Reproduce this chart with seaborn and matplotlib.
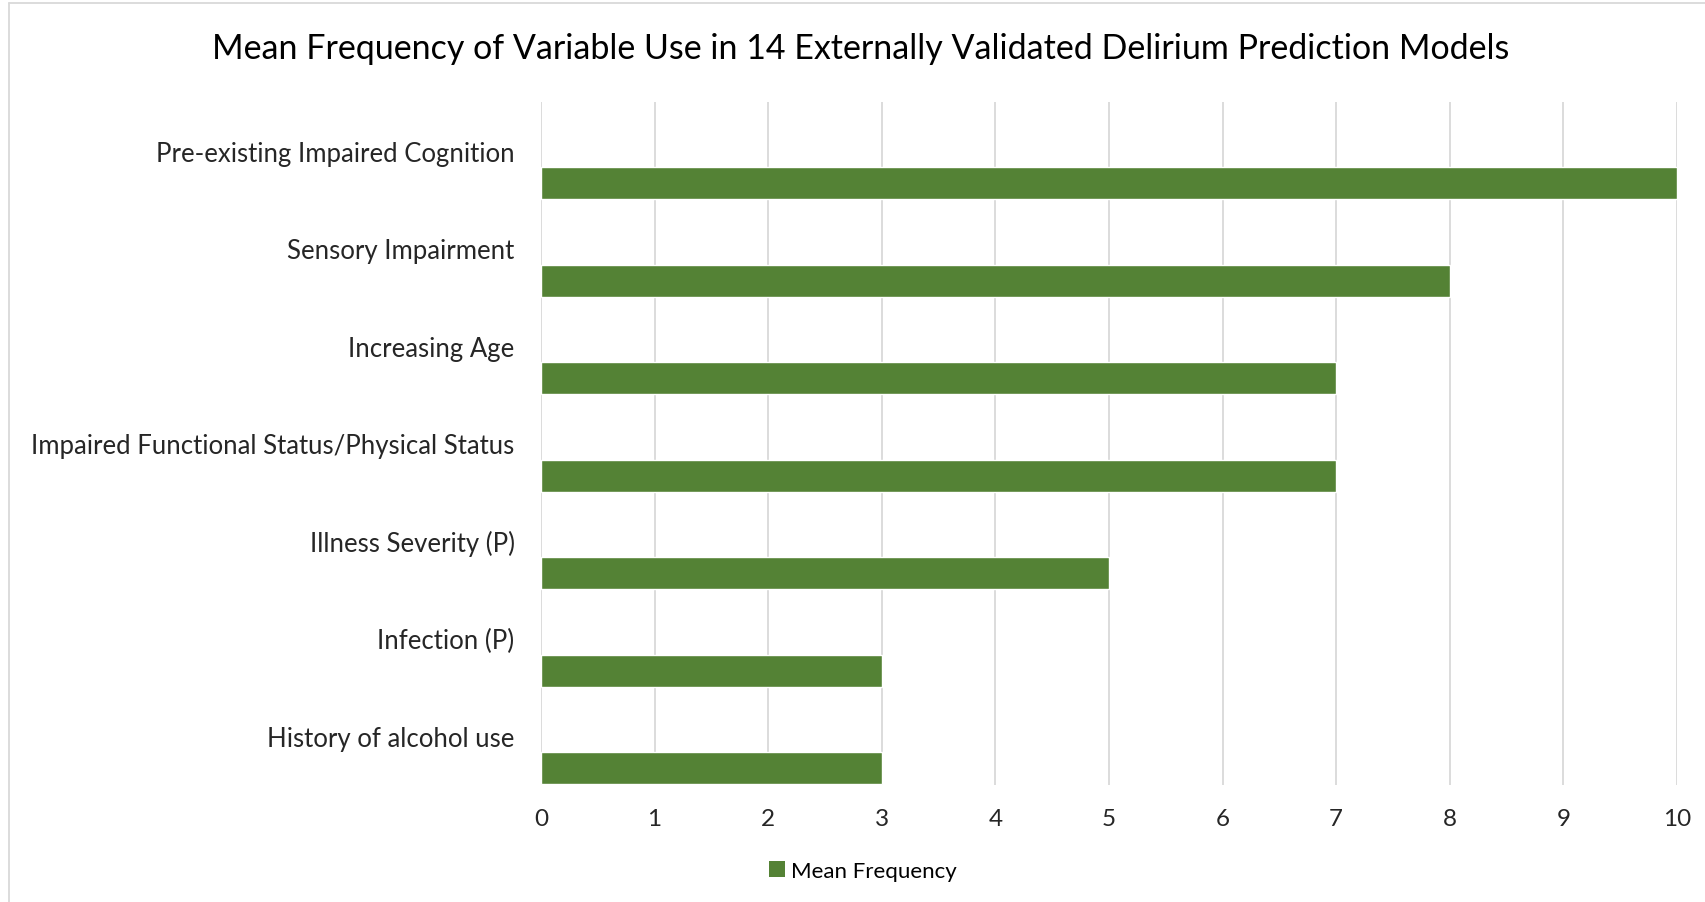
import matplotlib
matplotlib.use('Agg')
import matplotlib.pyplot as plt
from matplotlib.patches import Patch
from matplotlib.lines import Line2D
import seaborn as sns
import pandas as pd

# ---------- data ----------
variables = [
    "Pre-existing Impaired Cognition",
    "Sensory Impairment",
    "Increasing Age",
    "Impaired Functional Status/Physical Status",
    "Illness Severity (P)",
    "Infection (P)",
    "History of alcohol use",
]
mean_freq = [10, 8, 7, 7, 5, 3, 3]
x_ticks = [0, 1, 2, 3, 4, 5, 6, 7, 8, 9, 10]
series_name = "Mean Frequency"
title = "Mean Frequency of Variable Use in 14 Externally Validated Delirium Prediction Models"

bar_color = "#548235"
grid_color = "#D9D9D9"

# ---------- style ----------
sns.set_theme(style="white")
plt.rcParams['font.family'] = ['Lato', 'DejaVu Sans']
plt.rcParams['text.color'] = 'black'

W, H = 1705, 903
fig = plt.figure(figsize=(W / 100, H / 100), dpi=100)
fig.patch.set_facecolor('white')

# plot area (pixel measurements from the reference)
x0, x1 = 541, 1677
y_top, y_bot = 103, 785.5
ax = fig.add_axes([x0 / W, 1 - y_bot / H, (x1 - x0) / W, (y_bot - y_top) / H])

df = pd.DataFrame({"Variable": variables, series_name: mean_freq})
sns.barplot(data=df, x=series_name, y="Variable", orient="h",
            color=bar_color, saturation=1, width=0.33, ax=ax)

# bar sits in lower third of each category band, label above it
offset = 0.333
ax.set_ylim(len(variables) - 1 - offset + 0.5, -offset - 0.5)
ax.set_yticks([i - offset for i in range(len(variables))])
ax.set_yticklabels(variables, fontsize=18.5)
ax.set_xlim(0, 10)
ax.set_xticks(x_ticks)
ax.set_xticklabels([str(t) for t in x_ticks], fontsize=17.5)
ax.tick_params(axis='y', length=0, pad=19)
ax.tick_params(axis='x', length=0, pad=17)
ax.set_xlabel("")
ax.set_ylabel("")
ax.xaxis.grid(True, color=grid_color, linewidth=1.3)
ax.yaxis.grid(False)
ax.set_axisbelow(True)
for s in ax.spines.values():
    s.set_visible(False)

# title
fig.text(861 / W, 1 - 49 / H, title, ha='center', va='center', fontsize=24.5)

# legend
handle = Patch(facecolor=bar_color, edgecolor='none', label=series_name)
fig.legend(handles=[handle], loc='center', bbox_to_anchor=(863 / W, 1 - 872 / H),
           frameon=False, fontsize=16, handlelength=0.7, handleheight=0.7,
           handletextpad=0.3)

# chart-area border (runs off the right and bottom edges)
fig.add_artist(Line2D([9 / W, 1], [1 - 4 / H, 1 - 4 / H], color=grid_color, linewidth=1.3))
fig.add_artist(Line2D([9 / W, 9 / W], [0, 1 - 4 / H], color=grid_color, linewidth=1.3))

fig.savefig("out.png", dpi=100)
